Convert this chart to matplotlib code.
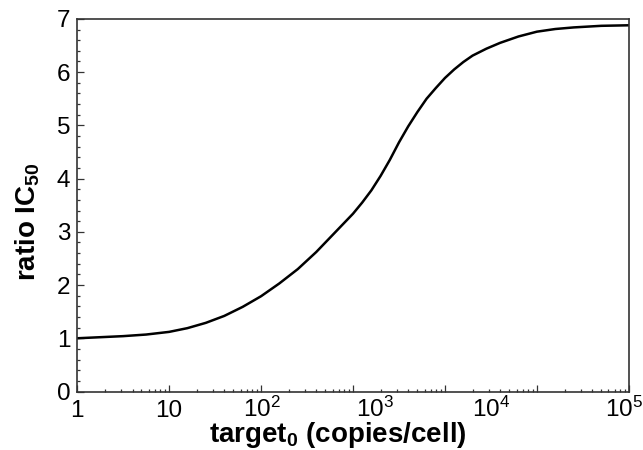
import matplotlib
matplotlib.use("Agg")
import matplotlib.pyplot as plt
from matplotlib.ticker import LogLocator, NullFormatter, MultipleLocator

plt.rcParams['font.family'] = ['Liberation Sans', 'DejaVu Sans']
plt.rcParams['mathtext.fontset'] = 'custom'
plt.rcParams['mathtext.rm'] = 'Liberation Sans'
plt.rcParams['mathtext.bf'] = 'Liberation Sans:bold'
plt.rcParams['mathtext.default'] = 'regular'

# curve (x in axis units, log scale)
target0 = [1, 1.78, 3.16, 5.62, 10, 15.8, 25.1, 39.8, 63.1, 100, 158, 251,
           398, 631, 1000, 1259, 1585, 1995, 2512, 3162, 3981, 5012, 6310,
           7943, 10000, 12589, 15849, 19953, 28184, 39811, 63096, 100000,
           158489, 251189, 501187, 1000000]
ratio_ic50 = [1.00, 1.02, 1.04, 1.07, 1.12, 1.19, 1.29, 1.42, 1.59, 1.79,
              2.03, 2.30, 2.62, 2.98, 3.34, 3.55, 3.78, 4.05, 4.35, 4.68,
              4.98, 5.25, 5.50, 5.70, 5.89, 6.05, 6.19, 6.31, 6.44, 6.55,
              6.67, 6.76, 6.81, 6.84, 6.87, 6.88]

# x tick labels as printed in the figure, and where they sit
xlabels = ['1', '10', '$10^{2}$', '$10^{3}$', '$10^{4}$', '$10^{5}$']
xlabel_pos = [1, 10, 102, 1740, 31600, 881000]

fig = plt.figure(figsize=(6.43, 4.5), dpi=100)
ax = fig.add_axes([0.120, 0.130, 0.858, 0.828])

ax.plot(target0, ratio_ic50, color='black', lw=1.8)

ax.set_xscale('log')
ax.set_xlim(1, 1e6)
ax.set_ylim(0, 7)

ax.xaxis.set_major_locator(LogLocator(base=10, numticks=10))
ax.xaxis.set_minor_locator(LogLocator(base=10, subs=range(2, 10), numticks=20))
ax.xaxis.set_major_formatter(NullFormatter())
ax.xaxis.set_minor_formatter(NullFormatter())
ax.yaxis.set_major_locator(MultipleLocator(1))
ax.yaxis.set_minor_locator(MultipleLocator(0.2))

ax.tick_params(which='both', direction='in', top=False, right=False,
               width=0.9, color='#333333')
ax.tick_params(which='major', length=5)
ax.tick_params(which='minor', length=2.5)
ax.tick_params(axis='y', labelsize=17.5, pad=5)

for lab, xp in zip(xlabels, xlabel_pos):
    ax.text(xp, -0.068, lab, transform=ax.get_xaxis_transform(),
            ha='center', va='baseline', fontsize=17.5)

for sp in ax.spines.values():
    sp.set_linewidth(1.2)
    sp.set_color('#333333')

ax.set_xlabel(r'target$_\mathbf{0}$ (copies/cell)', fontsize=20,
              fontweight='bold', va='baseline')
ax.xaxis.set_label_coords(0.473, -0.135)
ax.set_ylabel(r'ratio IC$_\mathbf{50}$', fontsize=20, fontweight='bold',
              va='center')
ax.yaxis.set_label_coords(-0.09, 0.455)

fig.savefig('out.png', dpi=100)
